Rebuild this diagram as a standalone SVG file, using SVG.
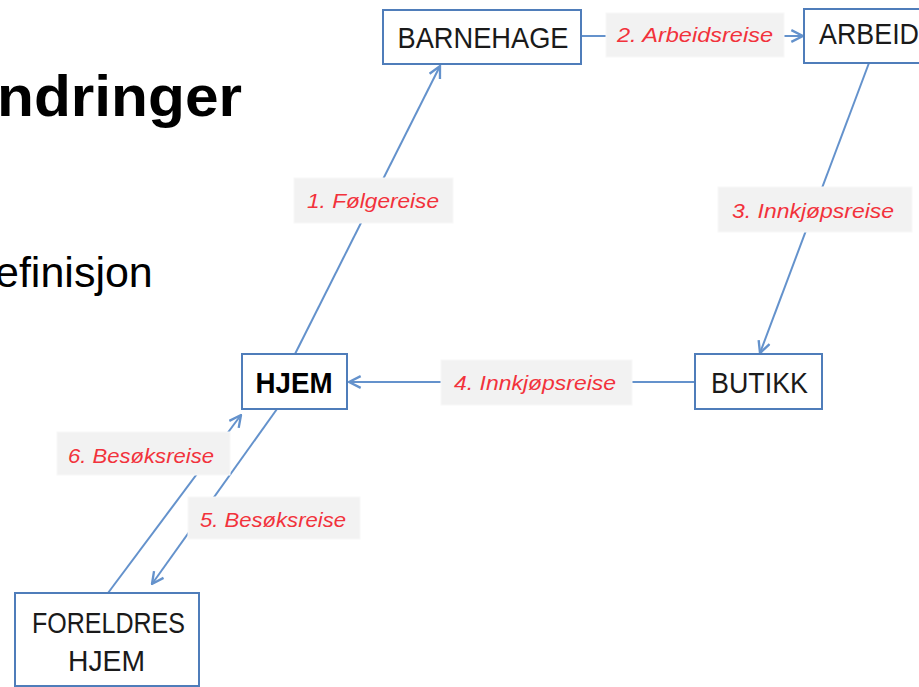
<svg xmlns="http://www.w3.org/2000/svg" width="919" height="687" viewBox="0 0 919 687">
<style>
.box{fill:#fff;stroke:#4f7dba;stroke-width:2}
.nt{font-family:"Liberation Sans",Arial,sans-serif;font-size:29px;fill:#1a1a1a;text-anchor:middle}
.b{font-weight:bold;fill:#000}
.conn{stroke:#6492cc;stroke-width:2;fill:none}
.lb{fill:#f2f2f2;stroke:#f8f8f8;stroke-width:1}
.lt{font-family:"Liberation Sans",Arial,sans-serif;font-size:21px;font-style:italic;fill:#f2323c;text-anchor:middle}
.title{font-family:"Liberation Sans",Arial,sans-serif;fill:#000}
</style>
<defs>
<marker id="arr" markerUnits="userSpaceOnUse" markerWidth="14" markerHeight="14" viewBox="0 0 12 12" refX="11" refY="6" orient="auto">
<path d="M1,1 L11,6 L1,11" fill="none" stroke="#6492cc" stroke-width="2"/>
</marker>
</defs>
<rect width="919" height="687" fill="#fff"/>
<g id="title">
<text class="title" x="-3" y="116" font-size="58" font-weight="bold" textLength="245" lengthAdjust="spacingAndGlyphs">ndringer</text>
<text class="title" x="-5" y="287" font-size="43">efinisjon</text>
</g>
<g id="connectors">
<line class="conn" x1="295" y1="354" x2="440" y2="66" marker-end="url(#arr)"/>
<line class="conn" x1="581" y1="36" x2="803" y2="36" marker-end="url(#arr)"/>
<line class="conn" x1="869" y1="63" x2="760" y2="353" marker-end="url(#arr)"/>
<line class="conn" x1="695" y1="382" x2="349" y2="382" marker-end="url(#arr)"/>
<line class="conn" x1="277" y1="409" x2="152" y2="584" marker-end="url(#arr)"/>
<line class="conn" x1="108" y1="593" x2="241" y2="415" marker-end="url(#arr)"/>
<rect class="lb" x="294" y="178" width="159" height="45"/>
<text class="lt" x="373" y="207.5" textLength="132" lengthAdjust="spacingAndGlyphs">1. Følgereise</text>
<rect class="lb" x="606" y="13" width="178" height="44"/>
<text class="lt" x="695" y="41.5" textLength="156" lengthAdjust="spacingAndGlyphs">2. Arbeidsreise</text>
<rect class="lb" x="718" y="187" width="194" height="45"/>
<text class="lt" x="813" y="217.5" textLength="162" lengthAdjust="spacingAndGlyphs">3. Innkjøpsreise</text>
<rect class="lb" x="441" y="360" width="191" height="45"/>
<text class="lt" x="535" y="389.5" textLength="162" lengthAdjust="spacingAndGlyphs">4. Innkjøpsreise</text>
<rect class="lb" x="188" y="497" width="172" height="42"/>
<text class="lt" x="273" y="526.5" textLength="146" lengthAdjust="spacingAndGlyphs">5. Besøksreise</text>
<rect class="lb" x="57" y="432" width="173" height="43"/>
<text class="lt" x="141" y="462.5" textLength="146" lengthAdjust="spacingAndGlyphs">6. Besøksreise</text>
</g>
<g id="barnehage">
<rect class="box" x="383" y="10" width="198" height="54"/>
<text class="nt" x="483" y="47.5" textLength="171" lengthAdjust="spacingAndGlyphs">BARNEHAGE</text>
</g>
<g id="arbeid">
<rect class="box" x="804" y="9" width="130" height="54"/>
<text class="nt" x="819" y="44" style="text-anchor:start" textLength="100" lengthAdjust="spacingAndGlyphs">ARBEID</text>
</g>
<g id="hjem">
<rect class="box" x="242" y="354" width="105" height="55"/>
<text class="nt b" x="294" y="392.5" textLength="77" lengthAdjust="spacingAndGlyphs">HJEM</text>
</g>
<g id="butikk">
<rect class="box" x="695" y="354" width="127" height="55"/>
<text class="nt" x="759.5" y="392.5" textLength="97" lengthAdjust="spacingAndGlyphs">BUTIKK</text>
</g>
<g id="foreldres-hjem">
<rect class="box" x="15" y="593" width="184" height="93"/>
<text class="nt" x="108.5" y="632.5" textLength="153" lengthAdjust="spacingAndGlyphs">FORELDRES</text>
<text class="nt" x="106.5" y="670.5" textLength="77" lengthAdjust="spacingAndGlyphs">HJEM</text>
</g>
</svg>
